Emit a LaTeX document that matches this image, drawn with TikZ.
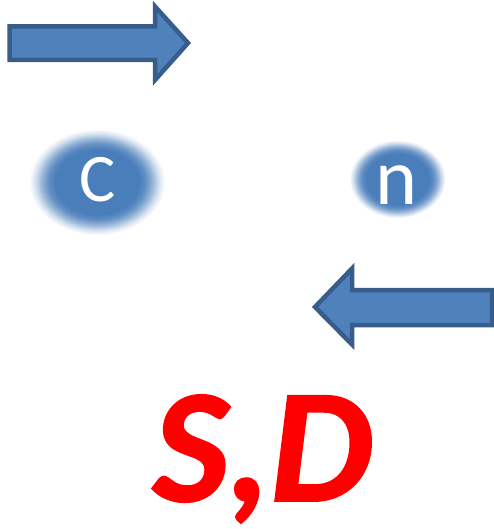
\documentclass[tikz,border=0pt]{standalone}
\usepackage{fontspec}
\newfontfamily\carlito{Carlito}
\newfontfamily\sdfont{Carlito}[BoldItalicFeatures={FakeBold=1.2}]
\definecolor{arrfill}{HTML}{4F81BD}
\definecolor{arrline}{HTML}{385D8A}
\definecolor{blob}{HTML}{4A7EBB}
\definecolor{sdred}{HTML}{FF0000}
\pgfdeclareradialshading{blobC}{\pgfpoint{0bp}{0bp}}{color(0bp)=(blob); color(15.5bp)=(blob); color(18bp)=(blob!85!white); color(20.5bp)=(blob!55!white); color(22.8bp)=(blob!22!white); color(25bp)=(white); color(50bp)=(white)}
\pgfdeclareradialshading{blobN}{\pgfpoint{0bp}{0bp}}{color(0bp)=(blob); color(16.5bp)=(blob); color(19bp)=(blob!85!white); color(21.3bp)=(blob!55!white); color(23.3bp)=(blob!22!white); color(25bp)=(white); color(50bp)=(white)}
\tikzset{
  bigarrow/.style={fill=arrfill, draw=arrline, line width=4.5pt, line join=miter},
  blobtext/.style={text=white, font=\carlito\fontsize{#1}{#1}\selectfont, inner sep=0pt},
}
\begin{document}
\begin{tikzpicture}[x=1pt,y=-1pt]
\useasboundingbox (0,0) rectangle (494,529);
\fill[white] (0,0) rectangle (494,529);
% blurred spheres
\shade[shading=blobC] (97,182) ellipse [x radius=68, y radius=53];
\shade[shading=blobN] (397.5,179) ellipse [x radius=48, y radius=39];
\node[blobtext=68] (c) at (97.5,180) {C};
\node[blobtext=80] (n) at (397,185) {n};
% arrows
\draw[bigarrow] (9.5,26.5) -- (155,26.5) -- (155,6.5) -- (188,43) -- (155,80) -- (155,60) -- (9.5,60) -- cycle;
\draw[bigarrow] (492,290) -- (352,290) -- (352,268.5) -- (315,307) -- (352,344.5) -- (352,325) -- (492,325) -- cycle;
% label
\node[anchor=base west, inner sep=0pt, text=sdred, font=\sdfont\bfseries\itshape\fontsize{162}{162}\selectfont] (sd) at (153,501) {S,D};
\end{tikzpicture}
\end{document}
